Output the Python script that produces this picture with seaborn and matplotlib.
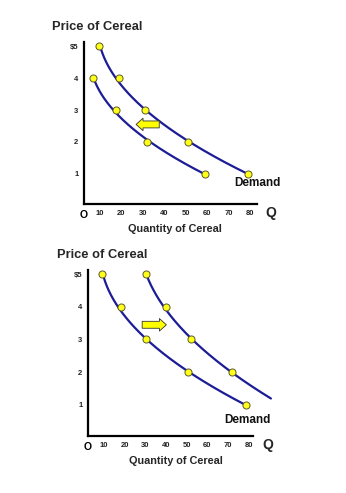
import numpy as np
import pandas as pd
import seaborn as sns
import matplotlib
matplotlib.use("Agg")
import matplotlib.pyplot as plt
from matplotlib.patches import FancyArrowPatch, ArrowStyle
from matplotlib.transforms import blended_transform_factory

# ---------------- data ----------------
prices_top_orig = [5, 4, 3, 2, 1]
qty_top_orig = [9.5, 18.7, 30.9, 51, 79.2]
prices_top_new = [4, 3, 2, 1]
qty_top_new = [6.6, 17.5, 32.1, 58.9]

prices_bot_orig = [5, 4, 3, 2, 1]
qty_bot_orig = [8.9, 18.2, 30.2, 50.5, 78.7]
prices_bot_new = [5, 4, 3, 2]
qty_bot_new = [30.2, 39.8, 51.9, 71.9]

x_ticks = [10, 20, 30, 40, 50, 60, 70, 80]
y_ticks = [1, 2, 3, 4, 5]
y_tick_labels = ["1", "2", "3", "4", "$5"]
title_text = "Price of Cereal"
xlabel_text = "Quantity of Cereal"

# ---------------- style ----------------
sns.set_style("white")
plt.rcParams["font.family"] = ["Liberation Sans", "DejaVu Sans"]

W, H = 346, 493
fig = plt.figure(figsize=(W / 100, H / 100), dpi=100)

CURVE = "#1c1c96"
DOT_FC = "#ffff1a"
DOT_EC = "#5a5a2a"
ARROW_FC = "#ffff00"


def smooth_curve(ax, q, p, p_end=None, deg=2):
    coef = np.polyfit(p, q, deg)
    p_lo = min(p) if p_end is None else p_end
    pp = np.linspace(p_lo, max(p), 200)
    df = pd.DataFrame({"Q": np.polyval(coef, pp), "P": pp})
    sns.lineplot(data=df, x="Q", y="P", sort=False, ax=ax, color=CURVE,
                 lw=1.6, clip_on=False, zorder=2)


def dots(ax, q, p):
    df = pd.DataFrame({"Q": q, "P": p})
    sns.scatterplot(data=df, x="Q", y="P", ax=ax, s=26, color=DOT_FC,
                    edgecolor=DOT_EC, linewidth=0.7, zorder=3, clip_on=False)


def setup(ax, xlo, xhi, ylo, yhi):
    ax.set_xlim(xlo, xhi)
    ax.set_ylim(ylo, yhi)
    for s in ["top", "right"]:
        ax.spines[s].set_visible(False)
    for s in ["left", "bottom"]:
        ax.spines[s].set_color("black")
        ax.spines[s].set_linewidth(1.6)
    ax.set_xticks([xlo] + x_ticks)
    ax.set_xticklabels(["O"] + [str(t) for t in x_ticks])
    ax.set_yticks(y_ticks)
    ax.set_yticklabels(y_tick_labels)
    ax.tick_params(axis="both", length=0, labelsize=5.5, colors="#222222")
    ax.tick_params(axis="x", pad=4)
    ax.tick_params(axis="y", pad=4)
    for lab in ax.get_xticklabels() + ax.get_yticklabels():
        lab.set_fontweight("bold")
    ol = ax.get_xticklabels()[0]
    ol.set_fontsize(7.5)
    ol.set_color("black")
    ax.set_xlabel("")
    ax.set_ylabel("")
    ax.set_facecolor("none")


def arrow(ax, x0, x1, y):
    st = ArrowStyle("Simple", head_length=5, head_width=9, tail_width=5)
    a = FancyArrowPatch((x0, y), (x1, y), arrowstyle=st, mutation_scale=1,
                        fc=ARROW_FC, ec="#333333", lw=0.6, zorder=4,
                        shrinkA=0, shrinkB=0)
    ax.add_patch(a)


# ---------------- top chart ----------------
ax1 = fig.add_axes([84 / W, 1 - 204 / H, 173 / W, 162 / H])
smooth_curve(ax1, qty_top_orig, prices_top_orig)
smooth_curve(ax1, qty_top_new, prices_top_new)
dots(ax1, qty_top_orig, prices_top_orig)
dots(ax1, qty_top_new, prices_top_new)
setup(ax1, 2.5, 83.2, 0.05, 5.14)
arrow(ax1, 37.6, 26.8, 2.55)
ax1.text(83.6, 0.70, "Demand", ha="center", va="center", fontsize=8.5,
         fontweight="bold", color="#111111", clip_on=False)
tr1 = blended_transform_factory(ax1.transData, ax1.transAxes)
ax1.text(89.5, -0.057, "Q", transform=tr1, ha="center", va="center",
         fontsize=10, fontweight="bold", clip_on=False)

# ---------------- bottom chart ----------------
ax2 = fig.add_axes([88 / W, 1 - 436 / H, 165 / W, 166 / H])
smooth_curve(ax2, qty_bot_orig, prices_bot_orig)
smooth_curve(ax2, qty_bot_new, prices_bot_new, p_end=1.19)
dots(ax2, qty_bot_orig, prices_bot_orig)
dots(ax2, qty_bot_new, prices_bot_new)
setup(ax2, 2.3, 82.1, 0.04, 5.13)
arrow(ax2, 28.5, 40.2, 3.45)
ax2.text(79.4, 0.52, "Demand", ha="center", va="center", fontsize=8.5,
         fontweight="bold", color="#111111", clip_on=False)
tr2 = blended_transform_factory(ax2.transData, ax2.transAxes)
ax2.text(89.5, -0.055, "Q", transform=tr2, ha="center", va="center",
         fontsize=10, fontweight="bold", clip_on=False)

# ---------------- titles / labels ----------------
fig.text(52 / W, 1 - 27 / H, title_text, ha="left", va="center",
         fontsize=9.3, fontweight="bold")
fig.text(57 / W, 1 - 255 / H, title_text, ha="left", va="center",
         fontsize=9.3, fontweight="bold")
fig.text(175 / W, 1 - 229 / H, xlabel_text, ha="center", va="center",
         fontsize=7.8, fontweight="bold")
fig.text(176 / W, 1 - 461 / H, xlabel_text, ha="center", va="center",
         fontsize=7.8, fontweight="bold")

fig.savefig("out.png", dpi=100, facecolor="white")
